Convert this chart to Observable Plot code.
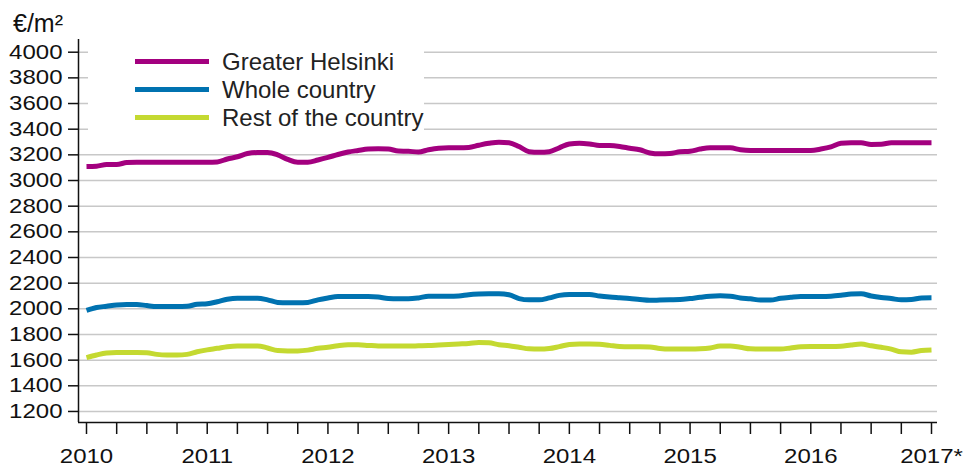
<!DOCTYPE html>
<html>
<head>
<meta charset="utf-8">
<script src="https://cdn.jsdelivr.net/npm/d3@7"></script>
<script src="https://cdn.jsdelivr.net/npm/@observablehq/plot@0.6"></script>
<style>
  html, body { margin: 0; padding: 0; background: #fff; }
  #wrap { position: relative; width: 964px; height: 472px; overflow: hidden; font-family: "Liberation Sans", Arial, sans-serif; }
  #unit { position: absolute; left: 13px; top: 9px; font-size: 25px; color: #111; line-height: 28px; }
  #legend { position: absolute; left: 88px; top: 42px; width: 336px; height: 94px; background: #fff; }
  .row { position: absolute; left: 0; height: 28px; }
  .sw { position: absolute; left: 47px; width: 74px; height: 5px; }
  .lt { position: absolute; left: 134px; font-size: 24px; color: #222; white-space: nowrap; line-height: 28px; }
</style>
</head>
<body>
<div id="wrap">
  <div id="chart"></div>
  <div id="unit">€/m²</div>
  <div id="legend"></div>
</div>
<script>
// Series names and colours
const seriesNames = ["Greater Helsinki", "Whole country", "Rest of the country"];
const seriesColors = ["#a3007f", "#0072b0", "#c4d931"];

// Monthly values, Jan 2010 ... Jan 2017 (€/m²)
const greaterHelsinki = [3109,3112,3125,3125,3140,3143,3143,3143,3143,3143,3143,3143,3143,
  3145,3168,3185,3210,3218,3218,3200,3165,3143,3143,3160,
  3180,3203,3222,3234,3245,3247,3245,3230,3228,3222,3240,3252,
  3255,3255,3258,3275,3290,3299,3295,3265,3225,3221,3225,3255,
  3285,3291,3285,3273,3272,3265,3252,3240,3215,3208,3210,3224,
  3228,3245,3255,3255,3255,3240,3234,3234,3234,3234,3234,3234,
  3234,3245,3262,3290,3294,3294,3281,3282,3294,3294,3294,3294,3294];
const wholeCountry = [1987,2010,2020,2030,2034,2034,2025,2018,2018,2018,2020,2035,2039,
  2055,2075,2083,2083,2083,2070,2050,2047,2047,2050,2070,
  2085,2096,2096,2096,2096,2092,2080,2078,2078,2085,2098,2098,
  2098,2100,2110,2115,2117,2117,2110,2080,2070,2070,2085,2105,
  2111,2111,2111,2100,2092,2086,2080,2072,2066,2068,2070,2072,
  2080,2090,2098,2101,2098,2085,2078,2068,2068,2082,2090,2096,
  2096,2096,2098,2105,2115,2117,2100,2088,2080,2070,2072,2085,2086];
const restOfCountry = [1620,1640,1655,1659,1659,1659,1658,1645,1641,1641,1645,1665,1680,
  1692,1705,1711,1711,1711,1695,1675,1672,1672,1678,1692,
  1700,1712,1719,1719,1715,1711,1711,1710,1710,1712,1714,1718,
  1722,1726,1730,1737,1735,1720,1712,1700,1688,1686,1690,1705,
  1722,1725,1725,1724,1715,1706,1704,1704,1703,1690,1686,1686,
  1686,1688,1695,1710,1710,1700,1688,1686,1686,1686,1695,1705,
  1706,1706,1706,1708,1718,1725,1712,1700,1686,1665,1662,1675,1680];

// Axis ticks
const yTicks = [1200,1400,1600,1800,2000,2200,2400,2600,2800,3000,3200,3400,3600,3800,4000];
const yearLabels = ["2010","2011","2012","2013","2014","2015","2016","2017*"];
const startYear = 2010;

const seriesValues = [greaterHelsinki, wholeCountry, restOfCountry];
const rows = [];
seriesValues.forEach((vals, s) => vals.forEach((v, i) => rows.push({t: startYear + i / 12, value: v, series: seriesNames[s]})));

const quarterTicks = [];
for (let k = 0; k <= (yearLabels.length - 1) * 4; k++) quarterTicks.push(startYear + k / 4);

const xDomain = [startYear - 8 / 120.7, startYear + yearLabels.length - 1 + 6 / 120.7];
const yDomain = [1114, 4099];

const chart = Plot.plot({
  width: 964,
  height: 472,
  marginLeft: 78,
  marginRight: 27,
  marginTop: 39,
  marginBottom: 50,
  style: {fontFamily: '"Liberation Sans", Arial, sans-serif', background: "#fff", color: "#111"},
  x: {type: "linear", domain: xDomain},
  y: {domain: yDomain},
  color: {domain: seriesNames, range: seriesColors},
  marks: [
    Plot.gridY(yTicks, {stroke: "#c8c8c8", strokeOpacity: 1, strokeWidth: 1.5}),
    Plot.axisY(yTicks, {tickSize: 10, tickPadding: 6, fontSize: 20.5, label: null, stroke: "#111", strokeWidth: 1.5, tickFormat: d => String(d)}),
    Plot.axisX(quarterTicks, {tickSize: 12, tickPadding: 14, fontSize: 20.5, label: null, stroke: "#111", strokeWidth: 1.5,
      tickFormat: d => Number.isInteger(d) ? yearLabels[d - startYear] : ""}),
    Plot.ruleX([xDomain[0]], {stroke: "#111", strokeWidth: 1.5}),
    Plot.ruleY([yDomain[0]], {stroke: "#111", strokeWidth: 1.5}),
    Plot.line(rows, {x: "t", y: "value", z: "series", stroke: "series", strokeWidth: 5, curve: "monotone-x", strokeLinejoin: "round", strokeLinecap: "butt"})
  ]
});
document.getElementById("chart").appendChild(chart);

// Stretch tick labels horizontally to match the reference glyph proportions
chart.querySelectorAll('g[aria-label="y-axis tick label"] text, g[aria-label="x-axis tick label"] text').forEach(t => {
  const len = t.getComputedTextLength();
  if (len > 0) { t.setAttribute("textLength", (len * 1.17).toFixed(1)); t.setAttribute("lengthAdjust", "spacingAndGlyphs"); }
});

// Legend
const legend = document.getElementById("legend");
seriesNames.forEach((name, i) => {
  const row = document.createElement("div");
  row.className = "row";
  row.style.top = (6 + i * 28) + "px";
  row.style.width = "336px";
  const sw = document.createElement("div");
  sw.className = "sw";
  sw.style.background = seriesColors[i];
  sw.style.top = "11px";
  const lt = document.createElement("div");
  lt.className = "lt";
  lt.textContent = name;
  lt.style.top = "0px";
  row.appendChild(sw);
  row.appendChild(lt);
  legend.appendChild(row);
});
</script>
</body>
</html>
